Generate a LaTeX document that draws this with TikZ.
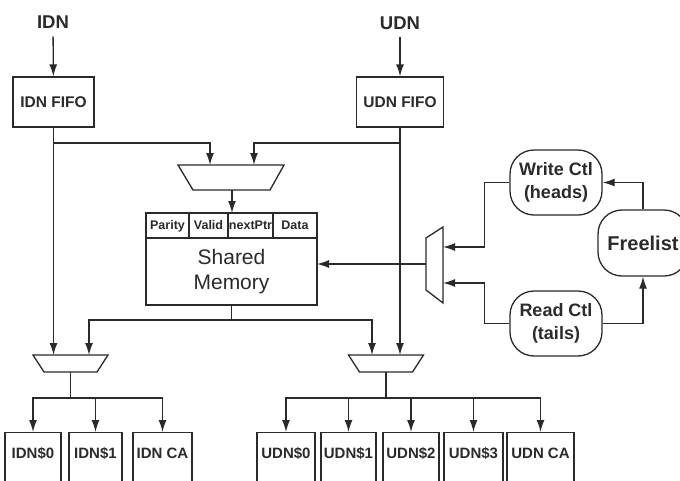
\documentclass[tikz,border=0pt]{standalone}
\usepackage{fontspec}
\setmainfont{Liberation Sans}
\usetikzlibrary{arrows.meta, positioning}
\definecolor{linea}{HTML}{2A2A2A}

\begin{document}
\begin{tikzpicture}[x=1pt, y=-1pt, line width=1.3pt, color=linea,
    freccia/.style={-{Latex[length=12pt,width=8pt]}},
    etichetta/.style={font=\fontsize{18.5}{20}\selectfont\bfseries},
    fifo/.style={draw, minimum height=50pt, inner sep=0pt, font=\fontsize{15.5}{17}\selectfont\bfseries},
    buffer/.style={draw, anchor=north, inner xsep=0pt, inner ysep=0pt, text height=26pt, text depth=34pt, font=\fontsize{15}{17}\selectfont\bfseries},
    campo/.style={draw, anchor=south west, outer sep=0pt, inner xsep=0pt, inner ysep=0pt, minimum height=25pt, text height=10pt, text depth=3pt, align=center, font=\fontsize{12.5}{14}\selectfont\bfseries},
    ctl/.style={draw, rounded corners=24pt, minimum width=92pt, minimum height=65pt, align=center, font=\fontsize{18}{23}\selectfont\bfseries},
]
    % Parametri
    \pgfmathsetmacro{\ysplit}{143}
    \pgfmathsetmacro{\ymuxt}{355}
    \pgfmathsetmacro{\ymuxb}{372}
    \pgfmathsetmacro{\ybuf}{432}
    \useasboundingbox (0,0) rectangle (680,480);
    % Ingressi
    \node[etichetta] (idn) at (53,22) {IDN};
    \node[etichetta] (udn) at (400,23) {UDN};
    \node[fifo, minimum width=81pt] (idnfifo) at (53.5,102) {IDN FIFO};
    \node[fifo, minimum width=87pt] (udnfifo) at (400,102) {UDN FIFO};
    % Mux verso la memoria
    \draw (178,165) -- (284,165) -- (270,190) -- (193,190) -- cycle;
    \coordinate (muxmemA) at (210,165);
    \coordinate (muxmemB) at (254,165);
    \coordinate (muxmemout) at (232,190);
    % Memoria condivisa
    \node[campo, text width=43pt] (parity) at (146,238) {Parity};
    \node[campo, text width=39pt, right=0pt of parity] (valid) {Valid};
    \node[campo, text width=45pt, right=0pt of valid] (nextptr) {nextPtr};
    \node[campo, text width=44pt, right=0pt of nextptr] (data) {Data};
    \node[draw, anchor=north west, outer sep=0pt, minimum width=171pt, minimum height=67pt, align=center,
        font=\fontsize{21}{25}\selectfont] (mem) at (146,238) {Shared\\Memory};
    % Mux di controllo
    \draw (426,238) -- (443,227) -- (443,303) -- (426,290) -- cycle;
    \coordinate (muxctlout) at (426,264);
    \coordinate (muxctlA) at (443,247);
    \coordinate (muxctlB) at (443,283);
    % Controllori
    \node[ctl] (wctl) at (556,182.5) {Write Ctl\\(heads)};
    \node[ctl] (rctl) at (556,323.5) {Read Ctl\\(tails)};
    \node[ctl, minimum width=90pt, minimum height=66pt, font=\fontsize{20}{23}\selectfont\bfseries] (free) at (643,243) {Freelist};
    % Mux di uscita
    \draw (33,\ymuxt) -- (108,\ymuxt) -- (97,\ymuxb) -- (44,\ymuxb) -- cycle;
    \draw (348.5,\ymuxt) -- (423.5,\ymuxt) -- (412.5,\ymuxb) -- (359.5,\ymuxb) -- cycle;
    \coordinate (muxidnA) at (53.5,\ymuxt);
    \coordinate (muxidnB) at (89,\ymuxt);
    \coordinate (muxidnout) at (70.5,\ymuxb);
    \coordinate (muxudnA) at (372,\ymuxt);
    \coordinate (muxudnB) at (400,\ymuxt);
    \coordinate (muxudnout) at (386,\ymuxb);
    % Buffer
    \node[buffer, minimum width=56pt] (idn0) at (33,\ybuf) {IDN\$0};
    \node[buffer, minimum width=53pt] (idn1) at (95.5,\ybuf) {IDN\$1};
    \node[buffer, minimum width=59pt] (idnca) at (162.5,\ybuf) {IDN CA};
    \node[buffer, minimum width=58pt] (udn0) at (286,\ybuf) {UDN\$0};
    \node[buffer, minimum width=55pt] (udn1) at (348.5,\ybuf) {UDN\$1};
    \node[buffer, minimum width=56pt] (udn2) at (411,\ybuf) {UDN\$2};
    \node[buffer, minimum width=59pt] (udn3) at (473.5,\ybuf) {UDN\$3};
    \node[buffer, minimum width=67pt] (udnca) at (540.5,\ybuf) {UDN CA};
    % Collegamenti ingressi
    \coordinate (idnsplit) at (53.5,\ysplit);
    \coordinate (udnsplit) at (400,\ysplit);
    \draw[freccia, shorten <=4pt] (idn) -- (idnfifo);
    \draw[freccia, shorten <=4pt] (udn) -- (udnfifo);
    \draw (idnfifo) -- (idnsplit);
    \draw (udnfifo) -- (udnsplit);
    \draw[freccia] (idnsplit) -- (muxidnA);
    \draw[freccia] (udnsplit) -- (muxudnB);
    \draw[freccia] (idnsplit) -| (muxmemA);
    \draw[freccia] (udnsplit) -| (muxmemB);
    \draw[freccia] (muxmemout) -- (muxmemout |- nextptr.north);
    % Uscita della memoria
    \draw (mem.south) -- ++(0,15) coordinate (memsplit);
    \draw[freccia] (memsplit) -| (muxidnB);
    \draw[freccia] (memsplit) -| (muxudnA);
    % Bus verso i buffer
    \draw (muxidnout) -- ++(0,26) coordinate (idnbus);
    \draw (muxudnout) -- ++(0,26) coordinate (udnbus);
    \foreach \b in {idn0,idn1,idnca}
        \draw[freccia] (idnbus) -| (\b.north);
    \foreach \b in {udn0,udn1,udn2,udn3,udnca}
        \draw[freccia] (udnbus) -| (\b.north);
    % Controllo
    \draw[freccia] (muxctlout) -- (muxctlout -| mem.east);
    \draw[freccia] (wctl.west) -- ++(-25,0) |- (muxctlA);
    \draw[freccia] (rctl.west) -- ++(-25,0) |- (muxctlB);
    \draw[freccia] (free.north) |- (wctl.east);
    \draw[freccia] (rctl.east) -| (free.south);
\end{tikzpicture}
\end{document}
